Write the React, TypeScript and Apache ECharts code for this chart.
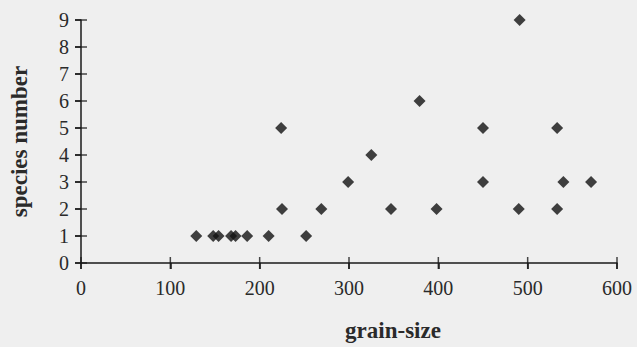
import React, { useEffect, useRef } from "react";
import * as echarts from "echarts";

const grainSize = [129, 148, 154, 168, 173, 186, 210, 252, 225, 269, 224, 299, 325, 347, 379, 398, 450, 450, 491, 490, 533, 533, 540, 571];
const speciesNumber = [1, 1, 1, 1, 1, 1, 1, 1, 2, 2, 5, 3, 4, 2, 6, 2, 5, 3, 9, 2, 5, 2, 3, 3];
const xTicks = [0, 100, 200, 300, 400, 500, 600];
const yTicks = [0, 1, 2, 3, 4, 5, 6, 7, 8, 9];
const xTitle = "grain-size";
const yTitle = "species number";

export default function App() {
  const ref = useRef<HTMLDivElement>(null);
  useEffect(() => {
    if (!ref.current) return;
    const chart = echarts.init(ref.current, null, { renderer: "svg" });
    const font = "Liberation Serif";
    const ink = "#1a1a1a";
    const labelStyle = { color: "#2a2a2a", fontFamily: font, fontSize: 20 };
    chart.setOption({
      animation: false,
      backgroundColor: "#efefef",
      grid: { left: 80, right: 20, top: 20, bottom: 84 },
      xAxis: {
        type: "value", min: 0, max: 600, interval: 100, position: "bottom",
        axisLine: { show: true, onZero: false, lineStyle: { color: ink, width: 1.5 } },
        axisTick: { show: true, length: 6, lineStyle: { color: ink, width: 1.5 } },
        splitLine: { show: false },
        axisLabel: { ...labelStyle, margin: 15 },
      },
      yAxis: {
        type: "value", min: 0, max: 9, interval: 1, position: "left",
        axisLine: { show: true, onZero: false, lineStyle: { color: ink, width: 1.5 } },
        axisTick: { show: true, length: 6, lineStyle: { color: ink, width: 1.5 } },
        splitLine: { show: false },
        axisLabel: { ...labelStyle, margin: 12 },
        name: yTitle, nameLocation: "middle", nameGap: 50, nameRotate: 90,
        nameTextStyle: { fontFamily: font, fontSize: 23, fontWeight: "bold", color: "#2a2a2a" },
      },
      graphic: [
        {
          type: "text", x: 393, y: 330,
          style: { text: xTitle, font: `bold 23px "${font}"`, fill: "#2a2a2a", textAlign: "center", textVerticalAlign: "middle" },
        },
      ],
      series: [
        {
          type: "scatter",
          symbol: "rect",
          symbolSize: [1.5, 12],
          silent: true,
          itemStyle: { color: ink },
          data: xTicks.map((v) => [v, 0]),
        },
        {
          type: "scatter",
          symbol: "rect",
          symbolSize: [12, 1.5],
          silent: true,
          itemStyle: { color: ink },
          data: yTicks.map((v) => [0, v]),
        },
        {
          type: "scatter",
          symbol: "diamond",
          symbolSize: 12,
          itemStyle: { color: "#111" },
          data: grainSize.map((g, i) => [g, speciesNumber[i]]),
        },
      ],
    });
    return () => chart.dispose();
  }, []);
  return <div ref={ref} style={{ width: 637, height: 347, position: "absolute", left: 0, top: 0 }} />;
}
